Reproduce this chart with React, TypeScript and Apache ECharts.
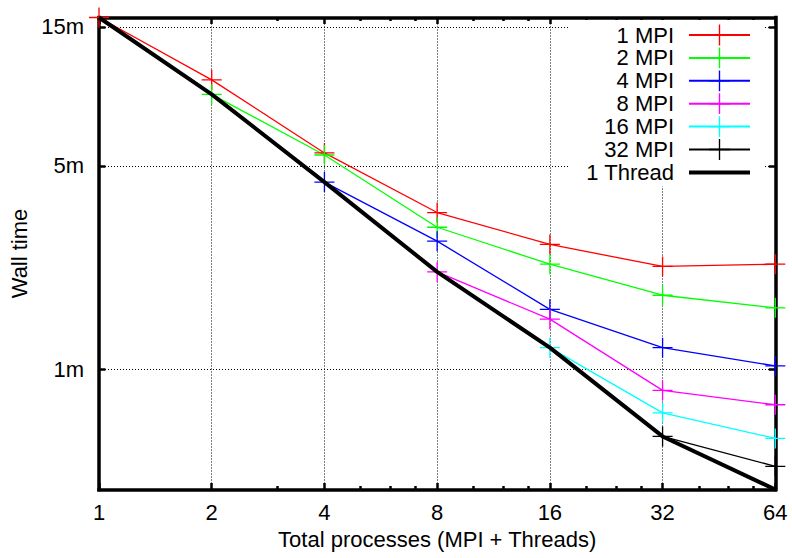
import React, { useEffect, useRef } from 'react';
import * as echarts from 'echarts';

// ---- data ----
const xValues = [1, 2, 4, 8, 16, 32, 64];
const xTickLabels = [1, 2, 4, 8, 16, 32, 64];
const xMinorTicks = [3, 5, 6, 7, 10, 12, 14, 20, 24, 28, 40, 48, 56];
const yTickValues = [1, 5, 15];
const yMin = 0.388;
const yMax = 16.15;

const seriesNames = ['1 MPI', '2 MPI', '4 MPI', '8 MPI', '16 MPI', '32 MPI', '1 Thread'];
const seriesStart = [0, 1, 2, 3, 4, 5, 0]; // index in xValues of first point
const mpi1 = [16.15, 9.87, 5.54, 3.46, 2.69, 2.26, 2.3];
const mpi2 = [8.8, 5.45, 3.08, 2.3, 1.8, 1.63];
const mpi4 = [4.4, 2.76, 1.61, 1.19, 1.03];
const mpi8 = [2.165, 1.49, 0.849, 0.758];
const mpi16 = [1.19, 0.711, 0.581];
const mpi32 = [0.59, 0.466];
const oneThread = [16.15, 8.8, 4.4, 2.165, 1.19, 0.59, 0.388];
const seriesValues = [mpi1, mpi2, mpi4, mpi8, mpi16, mpi32, oneThread];
const seriesColors = ['#ff0000', '#00ff00', '#0000ff', '#ff00ff', '#00ffff', '#000000', '#000000'];

const FONT = 'Liberation Sans, Arial, Helvetica, sans-serif';
const FS = 22;
const PLUS = 'path://M0,9.35H20V10.65H0Z M9.35,0H10.65V20H9.35Z';
const THICK_LINE_ICON = 'path://M0,0H61V4H0Z';

export default function App() {
  const ref = useRef<HTMLDivElement>(null);
  useEffect(() => {
    if (!ref.current) return;
    const chart = echarts.init(ref.current, undefined, { renderer: 'svg' });

    const fmt = (v: number) => String(Math.round(v * 100) / 100);
    const xBase = {
      type: 'log' as const,
      logBase: 2,
      min: 1,
      max: 64,
      axisLabel: { show: false },
      splitLine: { show: false },
      minorTick: { show: false },
      axisLine: { show: false },
    };
    const yBase = {
      type: 'log' as const,
      logBase: 10,
      min: yMin,
      max: yMax,
      axisLabel: { show: false },
      splitLine: { show: false },
      minorTick: { show: false },
      axisLine: { show: false },
    };
    const majorTick = (vals: number[]) => ({
      show: true,
      inside: true,
      length: 6.5,
      customValues: vals,
      lineStyle: { color: '#000', width: 2.5 },
    });
    const minorTickStyle = {
      show: true,
      inside: true,
      length: 3.5,
      customValues: xMinorTicks,
      lineStyle: { color: '#000', width: 2.5 },
    };
    const border = { show: true, lineStyle: { color: '#000', width: 3.5, cap: 'square' } };
    const dotted = { show: true, lineStyle: { color: '#000', width: 1, type: [1, 2] } };

    const series = seriesNames.map((name, i) => {
      const isThread = name === '1 Thread';
      return {
        name,
        type: 'line',
        xAxisIndex: 0,
        yAxisIndex: 0,
        data: seriesValues[i].map((v, j) => [xValues[seriesStart[i] + j], v]),
        symbol: isThread ? 'none' : PLUS,
        symbolSize: 20,
        showSymbol: !isThread,
        clip: false,
        z: isThread ? 5 : 3,
        silent: true,
        lineStyle: { color: seriesColors[i], width: isThread ? 4 : 1.3 },
        itemStyle: { color: seriesColors[i], borderWidth: 0 },
        emphasis: { disabled: true },
      };
    });

    chart.setOption({
      animation: false,
      backgroundColor: '#fff',
      textStyle: { fontFamily: FONT, color: '#000' },
      grid: { left: 97.7, right: 16.7, top: 17.5, bottom: 68.5, containLabel: false },
      legend: {
        data: seriesNames.map((name) =>
          name === '1 Thread' ? { name, icon: THICK_LINE_ICON, itemStyle: { color: '#000' } } : { name }
        ),
        orient: 'vertical',
        right: 28,
        top: 20,
        align: 'right',
        itemWidth: 61,
        itemHeight: 26,
        itemGap: 0.9,
        backgroundColor: '#fff',
        padding: [4, 13, 3, 17],
        selectedMode: false,
        textStyle: { fontFamily: FONT, fontSize: FS, color: '#000', padding: [0, 10, 0, 0] },
      },
      xAxis: [
        {
          ...xBase,
          position: 'bottom',
          axisLine: border,
          axisTick: majorTick(xTickLabels),
          axisLabel: {
            show: true,
            customValues: xTickLabels,
            formatter: (v: number) => fmt(v),
            margin: 12,
            fontFamily: FONT,
            fontSize: FS,
            color: '#000',
          },
          splitLine: dotted,
          name: 'Total processes (MPI + Threads)',
          nameLocation: 'middle',
          nameGap: 35,
          nameTextStyle: { fontFamily: FONT, fontSize: FS, color: '#000' },
        },
        { ...xBase, position: 'bottom', axisTick: minorTickStyle },
        { ...xBase, position: 'top', axisLine: border, axisTick: majorTick(xTickLabels) },
        { ...xBase, position: 'top', axisTick: minorTickStyle },
      ],
      yAxis: [
        {
          ...yBase,
          position: 'left',
          axisLine: border,
          axisTick: majorTick(yTickValues),
          axisLabel: {
            show: true,
            customValues: yTickValues,
            formatter: (v: number) => fmt(v) + 'm',
            margin: 15,
            fontFamily: FONT,
            fontSize: FS,
            color: '#000',
          },
          splitLine: dotted,
          name: 'Wall time',
          nameLocation: 'middle',
          nameGap: 69,
          nameRotate: 90,
          nameTextStyle: { fontFamily: FONT, fontSize: FS, color: '#000' },
        },
        { ...yBase, position: 'right', axisLine: border, axisTick: majorTick(yTickValues) },
      ],
      series,
    });
    return () => chart.dispose();
  }, []);
  return (
    <div
      ref={ref}
      style={{ position: 'absolute', left: 0, top: 0, width: 792, height: 558, background: '#fff' }}
    />
  );
}
